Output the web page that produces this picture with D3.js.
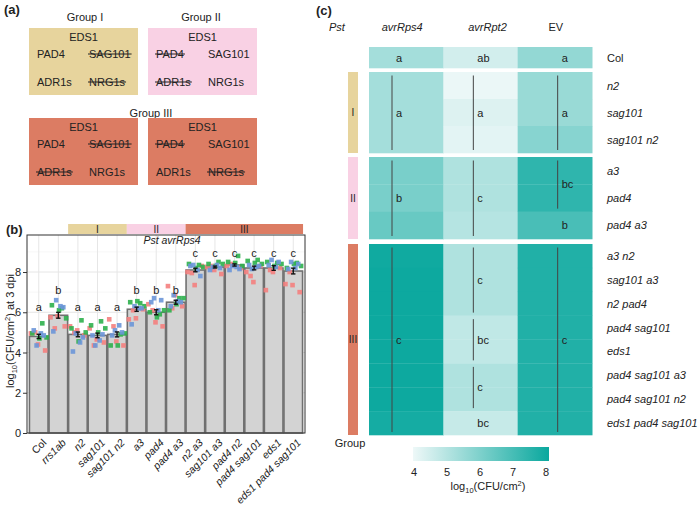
<!DOCTYPE html>
<html>
<head>
<meta charset="utf-8">
<script src="https://cdn.jsdelivr.net/npm/d3@7"></script>
<style>
  body { margin: 0; background: #fff; }
  text { font-family: "Liberation Sans", Arial, sans-serif; fill: #222; }
</style>
</head>
<body>
<svg id="fig" width="698" height="506"></svg>
<script>
// ---------- panel (a) data ----------
const boxGenes = ["PAD4", "SAG101", "ADR1s", "NRG1s"];
const boxGroups = ["I", "II", "III", "III"];
const boxKnocked = [[0, 1, 0, 1], [1, 0, 1, 0], [0, 1, 1, 0], [1, 0, 0, 1]];

// ---------- panel (b) data ----------
const genotypes = ["Col", "rrs1ab", "n2", "sag101", "sag101 n2", "a3", "pad4", "pad4 a3",
  "n2 a3", "sag101 a3", "pad4 n2", "pad4 sag101", "eds1", "eds1 pad4 sag101"];
const barMeans = [4.8, 5.85, 4.9, 4.85, 4.9, 6.15, 6.0, 6.5, 8.1, 8.25, 8.35, 8.2, 8.2, 8.05];
const barLetters = ["a", "b", "a", "a", "a", "b", "b", "b", "c", "c", "c", "c", "c", "c"];
const redPts = [
  [4.95, 4.4, 4.1, 5.0], [5.75, 5.8, 5.3, 5.2], [5.3, 5.1, 4.85, 5.0], [5.2, 4.65, 4.5, 4.35],
  [5.65, 4.55, 4.35, 5.3], [5.65, 5.7, 6.15, 6.1], [6.4, 5.5, 5.3, 6.1], [7.3, 6.85, 6.3, 6.2],
  [8.0, 7.35, 8.3, 7.95], [8.25, 8.1, 7.9, 8.3], [8.3, 8.35, 8.2, 8.4], [8.0, 7.5, 8.3, 7.8],
  [7.1, 8.0, 8.2, 8.1], [7.4, 7.35, 7.0, 8.0]];
const greenPts = [
  [5.45, 4.95, 4.7, 4.75], [6.2, 6.35, 6.1, 5.7], [5.6, 5.2, 4.55, 5.0], [5.55, 5.35, 5.0, 5.2],
  [4.9, 4.35, 4.35, 4.95], [6.45, 6.5, 6.55, 6.3], [5.9, 6.0, 5.75, 6.1], [6.7, 6.1, 6.4, 6.7],
  [8.35, 8.4, 8.2, 8.25], [8.5, 8.4, 8.3, 8.4], [8.8, 8.5, 8.45, 8.3], [8.6, 8.55, 8.45, 8.4],
  [8.45, 8.5, 8.3, 8.4], [8.45, 8.2, 8.4, 8.3]];
const bluePts = [
  [4.35, 4.85, 5.1, 4.95], [6.6, 6.25, 5.05, 6.3], [4.95, 4.75, 4.05, 4.5], [4.35, 4.9, 4.85, 4.6],
  [5.1, 5.0, 4.85, 5.35], [6.3, 6.2, 5.4, 6.2], [6.7, 6.6, 6.5, 6.1], [6.85, 6.5, 6.3, 6.55],
  [8.35, 7.8, 8.3, 8.1], [8.25, 8.2, 8.1, 8.35], [8.3, 8.15, 8.1, 8.25], [8.15, 8.3, 8.35, 8.25],
  [8.6, 8.5, 8.35, 8.25], [8.5, 8.4, 8.15, 8.2]];
const barGroupSpans = [["I", "n2", "sag101 n2"], ["II", "a3", "pad4 a3"], ["III", "n2 a3", "eds1 pad4 sag101"]];
const yTicks = [0, 2, 4, 6, 8];

// ---------- panel (c) data ----------
const heatCols = ["avrRps4", "avrRpt2", "EV"];
const heatGroups = ["Col", "I", "II", "III"];
const heatRows = [
  ["Col"],
  ["n2", "sag101", "sag101 n2"],
  ["a3", "pad4", "pad4 a3"],
  ["a3 n2", "sag101 a3", "n2 pad4", "pad4 sag101", "eds1", "pad4 sag101 a3", "pad4 sag101 n2", "eds1 pad4 sag101"]];
const heatAvrRps4 = [5.3, 5.3, 5.3, 5.3, 6.05, 6.05, 6.35, 7.9, 7.95, 7.95, 7.95, 7.95, 7.95, 7.95, 7.8];
const heatAvrRpt2 = [4.5, 4.05, 4.3, 4.2, 5.1, 5.1, 5.0, 5.1, 5.1, 5.1, 4.8, 4.8, 5.1, 5.1, 4.7];
const heatEV = [5.6, 5.5, 5.5, 5.8, 7.35, 7.35, 6.9, 7.6, 7.6, 7.6, 7.6, 7.6, 7.6, 7.6, 7.6];
// letter segments: [first row, last row, letter, bracket line]
const lettersAvrRps4 = [[0, 0, "a", false], [1, 3, "a", true], [4, 6, "b", true], [7, 14, "c", true]];
const lettersAvrRpt2 = [[0, 0, "ab", false], [1, 3, "a", true], [4, 6, "c", true], [7, 9, "c", true],
  [10, 11, "bc", true], [12, 13, "c", true], [14, 14, "bc", false]];
const lettersEV = [[0, 0, "a", false], [1, 3, "a", true], [4, 5, "bc", true], [6, 6, "b", false], [7, 14, "c", true]];
const colorbarTicks = [4, 5, 6, 7, 8];

const groupColor = { I: "#e7d49d", II: "#f9d1e4", III: "#dc7c63" };
const ptColors = ["#f4807e", "#2eb04c", "#6b96d8"];

const svg = d3.select("#fig");

// panel letters
[["(a)", 4, 14], ["(b)", 6, 234], ["(c)", 316, 15]].forEach(([t, x, y]) => {
  svg.append("text").attr("x", x).attr("y", y).attr("font-size", 13).attr("font-weight", "bold").text(t);
});

// ================= panel (a) =================
const pa = svg.append("g");
[["Group I", 85, 21], ["Group II", 201, 21], ["Group III", 151, 117]].forEach(([t, x, y]) => {
  pa.append("text").attr("x", x).attr("y", y).attr("text-anchor", "middle").attr("font-size", 11).text(t);
});
const boxPos = [[29, 28], [148, 28], [29, 118], [148, 118]];
boxPos.forEach(([bx, by], i) => {
  pa.append("rect").attr("x", bx).attr("y", by).attr("width", 109).attr("height", 67)
    .attr("fill", groupColor[boxGroups[i]]);
  pa.append("text").attr("x", bx + 54.5).attr("y", by + 13).attr("text-anchor", "middle")
    .attr("font-size", 11).text("EDS1");
  boxGenes.forEach((gname, j) => {
    const tx = bx + (j % 2 === 0 ? 8 : 60);
    const ty = by + (j < 2 ? 30 : 58);
    const t = pa.append("text").attr("x", tx).attr("y", ty).attr("font-size", 11).text(gname);
    if (boxKnocked[i][j]) {
      const w = t.node().getComputedTextLength();
      pa.append("line").attr("x1", tx - 1).attr("x2", tx + w + 1)
        .attr("y1", ty - 4).attr("y2", ty - 4).attr("stroke", "#222").attr("stroke-width", 1);
    }
  });
});

// ================= panel (b) =================
const bL = 27, bR = 305, bT = 235, bB = 433;
const pb = svg.append("g");
const x = d3.scalePoint().domain(genotypes).range([bL, bR]).padding(0.6);
const step = x.step();
const y = d3.scaleLinear().domain([0, 9.84]).range([bB, bT]);

pb.append("rect").attr("x", bL).attr("y", bT).attr("width", bR - bL).attr("height", bB - bT).attr("fill", "#fff");
// grid
d3.range(1, 10, 2).forEach(v => {
  pb.append("line").attr("x1", bL).attr("x2", bR).attr("y1", y(v)).attr("y2", y(v))
    .attr("stroke", "#f2f2f2").attr("stroke-width", 0.6);
});
yTicks.forEach(v => {
  pb.append("line").attr("x1", bL).attr("x2", bR).attr("y1", y(v)).attr("y2", y(v))
    .attr("stroke", "#e6e6e6").attr("stroke-width", 1);
});
genotypes.forEach(g => {
  pb.append("line").attr("x1", x(g)).attr("x2", x(g)).attr("y1", bT).attr("y2", bB)
    .attr("stroke", "#e6e6e6").attr("stroke-width", 1);
});

// bars
const bw = step * 0.95;
pb.selectAll(".bar").data(genotypes).enter().append("rect")
  .attr("x", d => x(d) - bw / 2).attr("width", bw)
  .attr("y", (d, i) => y(barMeans[i])).attr("height", (d, i) => bB - y(barMeans[i]))
  .attr("fill", "#d3d3d3").attr("stroke", "#707070").attr("stroke-width", 1.6);

// points
const ptSets = [redPts, greenPts, bluePts];
const points = [];
genotypes.forEach((g, i) => {
  ptSets.forEach((set, c) => {
    set[i].forEach((v, k) => {
      const j = c * 4 + k;
      const off = (((j * 5) % 12) / 11 - 0.5) * 0.8 * step;
      points.push({ g, v, c, off });
    });
  });
});
pb.selectAll(".pt").data(points).enter().append("rect")
  .attr("x", d => x(d.g) + d.off - 2.3).attr("y", d => y(d.v) - 2.3)
  .attr("width", 4.6).attr("height", 4.6)
  .attr("fill", d => ptColors[d.c]).attr("opacity", 0.9);

// error bars
genotypes.forEach((g, i) => {
  const all = [...redPts[i], ...greenPts[i], ...bluePts[i]];
  const se = d3.deviation(all) / Math.sqrt(all.length);
  const cx = x(g), m = barMeans[i];
  const e = pb.append("g").attr("stroke", "#111").attr("stroke-width", 1.4);
  e.append("line").attr("x1", cx).attr("x2", cx).attr("y1", y(m - se)).attr("y2", y(m + se));
  e.append("line").attr("x1", cx - 2.2).attr("x2", cx + 2.2).attr("y1", y(m - se)).attr("y2", y(m - se));
  e.append("line").attr("x1", cx - 2.2).attr("x2", cx + 2.2).attr("y1", y(m + se)).attr("y2", y(m + se));
});

// letters
const letterLevel = { a: 6.05, b: 6.9, c: 8.75 };
genotypes.forEach((g, i) => {
  pb.append("text").attr("x", x(g)).attr("y", y(letterLevel[barLetters[i]]))
    .attr("text-anchor", "middle").attr("font-size", 11).text(barLetters[i]);
});

pb.append("text").attr("x", (bL + bR) / 2 + 6).attr("y", 244).attr("text-anchor", "middle")
  .attr("font-size", 10.5).attr("font-style", "italic").text("Pst avrRps4");

pb.append("rect").attr("x", bL).attr("y", bT).attr("width", bR - bL).attr("height", bB - bT)
  .attr("fill", "none").attr("stroke", "#333").attr("stroke-width", 1);

// group header strip
barGroupSpans.forEach(([name, a, b]) => {
  const x0 = x(a) - step / 2, x1 = x(b) + step / 2;
  pb.append("rect").attr("x", x0).attr("y", 224).attr("width", x1 - x0).attr("height", 10)
    .attr("fill", groupColor[name]);
  pb.append("text").attr("x", (x0 + x1) / 2).attr("y", 232.5).attr("text-anchor", "middle")
    .attr("font-size", 10).text(name);
});

// y axis
const yAxis = pb.append("g").attr("transform", `translate(${bL},0)`)
  .call(d3.axisLeft(y).tickValues(yTicks).tickSize(4).tickPadding(2));
yAxis.select(".domain").remove();
yAxis.selectAll("line").attr("stroke", "#333");
yAxis.selectAll("text").attr("font-size", 11).attr("fill", "#333")
  .style("font-family", '"Liberation Sans", Arial, sans-serif');

const yl = pb.append("text").attr("transform", "translate(14,331) rotate(-90)")
  .attr("text-anchor", "middle").attr("font-size", 11);
yl.append("tspan").text("log");
yl.append("tspan").attr("font-size", 7.5).attr("dy", 3).text("10");
yl.append("tspan").attr("dy", -3).text("(CFU/cm");
yl.append("tspan").attr("font-size", 7.5).attr("dy", -4).text("2");
yl.append("tspan").attr("dy", 4).text(") at 3 dpi");

// x labels
genotypes.forEach(g => {
  pb.append("text").attr("transform", `translate(${x(g) + 3},438) rotate(-45)`)
    .attr("text-anchor", "end").attr("dy", "0.72em").attr("font-size", 10.5)
    .attr("font-style", g === "Col" ? "normal" : "italic").text(g);
});

// ================= panel (c) =================
const pc = svg.append("g");
const hx = d3.scaleBand().domain(heatCols).range([369, 592]);
const groupRanges = [[47, 68], [72, 153], [157, 239], [244, 435]];
const color = d3.scaleLinear().domain([4, 8]).range(["#eef8f8", "#0aa89e"]);
const heatVals = [heatAvrRps4, heatAvrRpt2, heatEV];
const heatLetters = [lettersAvrRps4, lettersAvrRpt2, lettersEV];
const lineOffset = [23, 30, 40];

// flatten rows with their y bands
const rowBands = [];
heatRows.forEach((rows, gi) => {
  const band = d3.scaleBand().domain(rows).range(groupRanges[gi]);
  rows.forEach(r => rowBands.push({ name: r, group: heatGroups[gi], y0: band(r), h: band.bandwidth() }));
});

heatCols.forEach((col, ci) => {
  rowBands.forEach((rb, ri) => {
    pc.append("rect").attr("x", hx(col)).attr("y", rb.y0).attr("width", hx.bandwidth() + 0.5)
      .attr("height", rb.h + 0.3).attr("fill", color(heatVals[ci][ri]));
  });
  heatLetters[ci].forEach(([r0, r1, lab, hasLine]) => {
    const top = rowBands[r0].y0, bot = rowBands[r1].y0 + rowBands[r1].h;
    const lx = hx(col) + lineOffset[ci];
    if (hasLine) {
      pc.append("line").attr("x1", lx).attr("x2", lx).attr("y1", top + 3.5).attr("y2", bot - 3)
        .attr("stroke", "#444").attr("stroke-width", 1);
    }
    pc.append("text").attr("x", lx + 4).attr("y", (top + bot) / 2 + 4).attr("font-size", 11).text(lab);
  });
});

pc.append("text").attr("x", 329).attr("y", 31).attr("font-size", 11).attr("font-style", "italic").text("Pst");
heatCols.forEach(col => {
  pc.append("text").attr("x", hx(col) + hx.bandwidth() / 2 + (col === "avrRps4" ? -4 : col === "avrRpt2" ? 7 : 1))
    .attr("y", 31).attr("text-anchor", "middle").attr("font-size", 11)
    .attr("font-style", col === "EV" ? "normal" : "italic").text(col);
});

rowBands.forEach(rb => {
  pc.append("text").attr("x", 607).attr("y", rb.y0 + rb.h / 2 + 4).attr("font-size", 11)
    .attr("fill", "#333").attr("font-style", rb.name === "Col" ? "normal" : "italic").text(rb.name);
});

// group side bars
heatGroups.forEach((gname, gi) => {
  if (gname === "Col") return;
  const [y0, y1] = groupRanges[gi];
  pc.append("rect").attr("x", 348).attr("y", y0).attr("width", 10).attr("height", y1 - y0)
    .attr("fill", groupColor[gname]);
  pc.append("text").attr("x", 353).attr("y", (y0 + y1) / 2 + 3.5).attr("text-anchor", "middle")
    .attr("font-size", 10).text(gname);
});
pc.append("text").attr("x", 350).attr("y", 447).attr("text-anchor", "middle").attr("font-size", 11).text("Group");

// colorbar
const cb = d3.scaleLinear().domain([4, 8]).range([414, 546]);
const grad = svg.append("defs").append("linearGradient").attr("id", "cbg");
grad.append("stop").attr("offset", "0%").attr("stop-color", color(4));
grad.append("stop").attr("offset", "100%").attr("stop-color", color(8));
pc.append("rect").attr("x", 413).attr("y", 447).attr("width", 136).attr("height", 14).attr("fill", "url(#cbg)");
colorbarTicks.forEach(t => {
  pc.append("text").attr("x", cb(t)).attr("y", 476).attr("text-anchor", "middle").attr("font-size", 11).text(t);
});
const cl = pc.append("text").attr("x", 488).attr("y", 490).attr("text-anchor", "middle").attr("font-size", 11);
cl.append("tspan").text("log");
cl.append("tspan").attr("font-size", 7.5).attr("dy", 3).text("10");
cl.append("tspan").attr("dy", -3).text("(CFU/cm");
cl.append("tspan").attr("font-size", 7.5).attr("dy", -4).text("2");
cl.append("tspan").attr("dy", 4).text(")");
</script>
</body>
</html>
